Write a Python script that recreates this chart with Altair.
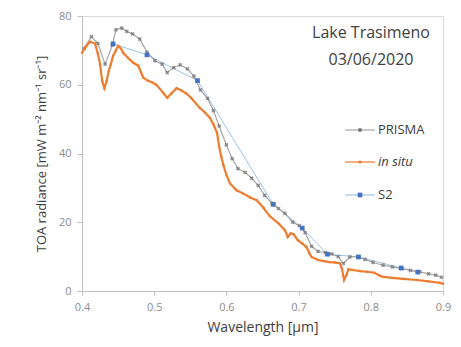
import altair as alt
import pandas as pd

prisma_wl = [0.403, 0.413, 0.422, 0.432, 0.442, 0.447, 0.455, 0.462, 0.470, 0.480, 0.490, 0.501,
             0.511, 0.518, 0.527, 0.536, 0.546, 0.555, 0.564, 0.574, 0.582, 0.590, 0.600, 0.608,
             0.616, 0.626, 0.635, 0.644, 0.653, 0.663, 0.672, 0.681, 0.692, 0.701, 0.709, 0.718,
             0.727, 0.737, 0.746, 0.755, 0.762, 0.771, 0.782, 0.792, 0.803, 0.817, 0.830, 0.843,
             0.855, 0.868, 0.880, 0.890, 0.898]
prisma_val = [70.5, 74.0, 72.0, 66.0, 71.5, 76.0, 76.5, 75.5, 74.8, 73.3, 69.5, 67.0,
              66.0, 63.5, 65.0, 65.8, 64.6, 62.5, 58.5, 56.0, 52.5, 48.0, 42.5, 38.5,
              35.6, 34.5, 32.8, 30.7, 27.8, 25.5, 24.0, 22.6, 20.0, 19.0, 17.0, 13.0,
              11.5, 11.2, 10.8, 10.0, 8.0, 9.9, 9.9, 9.2, 8.3, 7.5, 7.0, 6.5,
              6.0, 5.6, 5.0, 4.6, 4.0]

insitu_wl = [0.400, 0.405, 0.411, 0.418, 0.422, 0.425, 0.428, 0.431, 0.434, 0.437, 0.440, 0.443,
             0.447, 0.450, 0.454, 0.457, 0.464, 0.471, 0.478, 0.482, 0.485, 0.491, 0.498, 0.503,
             0.508, 0.513, 0.518, 0.524, 0.531, 0.538, 0.545, 0.552, 0.558, 0.563, 0.570, 0.577,
             0.582, 0.587, 0.590, 0.593, 0.596, 0.600, 0.605, 0.614, 0.623, 0.633, 0.642, 0.651,
             0.660, 0.672, 0.681, 0.685, 0.689, 0.693, 0.699, 0.705, 0.711, 0.715, 0.718, 0.727,
             0.735, 0.743, 0.750, 0.757, 0.760, 0.763, 0.766, 0.769, 0.775, 0.785, 0.795, 0.805,
             0.812, 0.817, 0.830, 0.845, 0.864, 0.880, 0.895, 0.900]
insitu_val = [69.3, 71.0, 72.5, 72.0, 69.0, 66.0, 61.0, 59.0, 61.0, 64.0, 66.0, 68.4,
              70.0, 71.3, 70.5, 69.3, 67.8, 66.4, 65.5, 63.5, 62.0, 61.2, 60.6, 60.0,
              58.8, 57.5, 56.2, 57.5, 59.0, 58.3, 57.4, 56.0, 54.5, 53.3, 52.0, 50.4,
              48.5, 46.0, 42.0, 39.0, 36.5, 33.8, 31.3, 29.3, 28.4, 27.2, 26.4, 24.3,
              21.8, 19.7, 17.7, 15.7, 16.8, 16.5, 14.8, 13.8, 12.8, 11.0, 9.9, 9.0,
              8.7, 8.4, 8.3, 8.1, 6.5, 3.2, 4.5, 6.3, 6.1, 5.8, 5.6, 5.3,
              4.5, 4.1, 3.8, 3.5, 3.2, 2.8, 2.4, 2.1]

s2_wl = [0.443, 0.490, 0.560, 0.665, 0.705, 0.740, 0.783, 0.842, 0.865]
s2_val = [71.9, 68.7, 61.2, 25.2, 18.3, 10.7, 9.9, 6.7, 5.5]

legend_names = ["PRISMA", "in situ", "S2"]
title_lines = ["Lake Trasimeno", "03/06/2020"]

FONT = "Open Sans"
W, H = 361, 275

prisma = pd.DataFrame({"wl": prisma_wl, "val": prisma_val})
insitu = pd.DataFrame({"wl": insitu_wl, "val": insitu_val})
s2 = pd.DataFrame({"wl": s2_wl, "val": s2_val})

xs = alt.Scale(domain=[0.4, 0.9], nice=False, zero=False)
ys = alt.Scale(domain=[0, 80], nice=False)
xax = alt.Axis(values=[0.4, 0.5, 0.6, 0.7, 0.8, 0.9], format=".1f", title="Wavelength [µm]",
               grid=False, tickSize=4, labelPadding=6, titlePadding=8, labelFlush=False)
yax = alt.Axis(values=[0, 20, 40, 60, 80], title="TOA radiance [mW m⁻² nm⁻¹ sr⁻¹]",
               grid=False, tickSize=5, labelPadding=6, titlePadding=10, labelFlush=False)

X = alt.X("wl:Q", scale=xs, axis=xax)
Y = alt.Y("val:Q", scale=ys, axis=yax)

c_prisma_line = "#a6a6a6"
c_prisma_pt = "#6f6f6f"
c_insitu = "#ED7D31"
c_s2_line = "#9DC3E6"
c_s2_pt = "#4472C4"

s2_line = alt.Chart(s2).mark_line(color=c_s2_line, strokeWidth=1).encode(x=X, y=Y)
pr_line = alt.Chart(prisma).mark_line(color=c_prisma_line, strokeWidth=1.2).encode(x=X, y=Y)
pr_pts = alt.Chart(prisma).mark_point(shape="cross", angle=45, filled=True, color=c_prisma_pt,
                                      size=18).encode(x=X, y=Y)
in_line = alt.Chart(insitu).mark_line(color=c_insitu, strokeWidth=2.2).encode(x=X, y=Y)
in_pts = alt.Chart(insitu).mark_circle(color=c_insitu, size=6, opacity=1).encode(x=X, y=Y)
s2_pts = alt.Chart(s2).mark_square(color=c_s2_pt, size=22, opacity=1).encode(x=X, y=Y)

# legend
leg_y = [114, 146, 179]
leg = pd.DataFrame({"name": legend_names, "y": leg_y,
                    "lc": [c_prisma_line, c_insitu, c_s2_line],
                    "pc": [c_prisma_pt, c_insitu, c_s2_pt]})
base_leg = alt.Chart(leg)
leg_rule = base_leg.mark_rule(strokeWidth=1.2).encode(
    x=alt.value(263), x2=alt.value(293), y=alt.Y("y:Q", scale=None),
    color=alt.Color("lc:N", scale=None))
leg_pr = alt.Chart(leg[leg.name == "PRISMA"]).mark_point(
    shape="cross", angle=45, filled=True, size=18, opacity=1).encode(
    x=alt.value(278), y=alt.Y("y:Q", scale=None), color=alt.Color("pc:N", scale=None))
leg_in = alt.Chart(leg[leg.name == "in situ"]).mark_circle(size=10, opacity=1).encode(
    x=alt.value(278), y=alt.Y("y:Q", scale=None), color=alt.Color("pc:N", scale=None))
leg_s2 = alt.Chart(leg[leg.name == "S2"]).mark_square(size=22, opacity=1).encode(
    x=alt.value(278), y=alt.Y("y:Q", scale=None), color=alt.Color("pc:N", scale=None))
leg_txt = alt.Chart(leg[leg.name != "in situ"]).mark_text(
    align="left", baseline="middle", font=FONT, fontSize=13, color="#404040").encode(
    x=alt.value(296), y=alt.Y("y:Q", scale=None), text="name:N")
leg_txt2 = alt.Chart(leg[leg.name == "in situ"]).mark_text(
    align="left", baseline="middle", font=FONT, fontSize=13, fontStyle="italic",
    color="#404040").encode(x=alt.value(296), y=alt.Y("y:Q", scale=None), text="name:N")

tt = pd.DataFrame({"t": title_lines, "y": [17, 44]})
title_txt = alt.Chart(tt).mark_text(align="center", baseline="middle", font=FONT,
                                    fontSize=16, color="#404040").encode(
    x=alt.value(289), y=alt.Y("y:Q", scale=None), text="t:N")

chart = alt.layer(
    s2_line, pr_line, pr_pts, in_line, in_pts, s2_pts,
    leg_rule, leg_pr, leg_in, leg_s2, leg_txt, leg_txt2, title_txt
).properties(
    width=W, height=H,
    autosize=alt.AutoSizeParams(type="none"),
    padding={"left": 82, "top": 16, "right": 18, "bottom": 56},
    background="white",
).configure_view(
    stroke="#d9d9d9", strokeWidth=1
).configure_axis(
    domainColor="#bfbfbf", tickColor="#bfbfbf", labelColor="#8c8c8c",
    labelFont=FONT, labelFontSize=11, titleFont=FONT, titleColor="#404040",
    titleFontWeight="normal", titleFontSize=13
).configure_axisX(titleFontSize=14)

chart.save("out.html", embed_options={"renderer": "svg", "actions": False})
